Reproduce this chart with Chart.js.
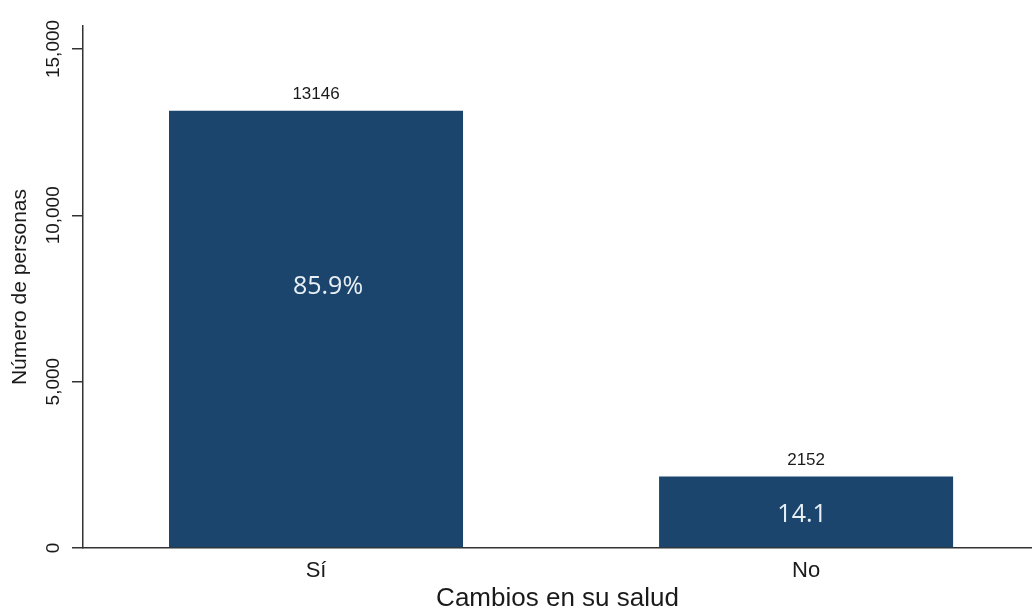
<!DOCTYPE html>
<html>
<head>
<meta charset="utf-8">
<script src="https://cdn.jsdelivr.net/npm/chart.js@4/dist/chart.umd.min.js"></script>
<style>
  html, body { margin: 0; padding: 0; background: #fff; }
  #wrap { width: 1032px; height: 614px; }
</style>
</head>
<body>
<div id="wrap"><canvas id="c" width="1032" height="614"></canvas></div>
<script>
// respuestas y conteos
const categories = ['Sí', 'No'];
const counts = [13146, 2152];
const shareLabels = ['85.9%', '14.1'];
const yTicks = [0, 5000, 10000, 15000];

const barColor = '#1c456e';
const inkColor = '#1a1a1a';

// etiquetas verticales del eje y (giradas, centradas en cada marca)
const yTickLabels = {
    id: 'yTickLabels',
    afterDraw(chart) {
        const { ctx, scales: { y } } = chart;
        ctx.save();
        ctx.fillStyle = inkColor;
        ctx.font = '19px Arial, "Liberation Sans", sans-serif';
        ctx.textAlign = 'center';
        ctx.textBaseline = 'middle';
        yTicks.forEach(v => {
            const py = y.getPixelForValue(v);
            ctx.save();
            ctx.translate(54, py);
            ctx.rotate(-Math.PI / 2);
            ctx.fillText(v.toLocaleString('en-US'), 0, 0);
            ctx.restore();
        });
        ctx.restore();
    }
};

// conteo encima de cada barra y porcentaje dentro
const barLabels = {
    id: 'barLabels',
    afterDatasetsDraw(chart) {
        const { ctx, scales: { y } } = chart;
        const bars = chart.getDatasetMeta(0).data;
        const innerLevel = [7850, 1000];
        const innerShift = [12, -4];
        ctx.save();
        ctx.textAlign = 'center';
        ctx.textBaseline = 'middle';
        bars.forEach((bar, i) => {
            ctx.fillStyle = inkColor;
            ctx.font = '17px Arial, "Liberation Sans", sans-serif';
            ctx.fillText(String(counts[i]), bar.x, bar.y - 16);
            ctx.fillStyle = '#e8f0f5';
            ctx.font = '25px "Open Sans", "Noto Sans", sans-serif';
            ctx.fillText(shareLabels[i], bar.x + innerShift[i], y.getPixelForValue(innerLevel[i]));
        });
        ctx.restore();
    }
};

new Chart(document.getElementById('c'), {
    type: 'bar',
    data: {
        datasets: [{
            data: counts.map((v, i) => ({ x: i, y: v })),
            backgroundColor: barColor,
            borderWidth: 0,
            barPercentage: 0.75,
            categoryPercentage: 0.8
        }]
    },
    options: {
        responsive: false,
        animation: false,
        layout: { padding: { top: 26, right: 0, left: 0, bottom: 0 } },
        plugins: { legend: { display: false }, tooltip: { enabled: false } },
        scales: {
            x: {
                type: 'linear',
                offset: false,
                min: -0.4755,
                max: 1.461,
                afterBuildTicks: s => { s.ticks = categories.map((_, i) => ({ value: i })); },
                afterFit: s => { s.height = 66; },
                grid: { display: false, drawTicks: false },
                border: { display: true, color: '#333', width: 1.5 },
                ticks: {
                    padding: 10,
                    color: inkColor,
                    font: { family: 'Arial, "Liberation Sans", sans-serif', size: 22 },
                    callback: v => categories[v]
                },
                title: {
                    display: true,
                    text: 'Cambios en su salud',
                    color: inkColor,
                    padding: { top: 0, bottom: 0 },
                    font: { family: 'Arial, "Liberation Sans", sans-serif', size: 26 }
                }
            },
            y: {
                min: 0,
                max: 15690,
                afterBuildTicks: s => { s.ticks = yTicks.map(v => ({ value: v })); },
                afterFit: s => { s.width = 83; },
                grid: { drawOnChartArea: false, drawTicks: true, tickLength: 11, color: '#333', lineWidth: 1.5 },
                border: { display: true, color: '#333', width: 1.5 },
                ticks: { display: false },
                title: {
                    display: true,
                    text: 'Número de personas',
                    color: inkColor,
                    padding: { top: 8, bottom: 0 },
                    font: { family: 'Arial, "Liberation Sans", sans-serif', size: 21 }
                }
            }
        }
    },
    plugins: [yTickLabels, barLabels]
});
</script>
</body>
</html>
